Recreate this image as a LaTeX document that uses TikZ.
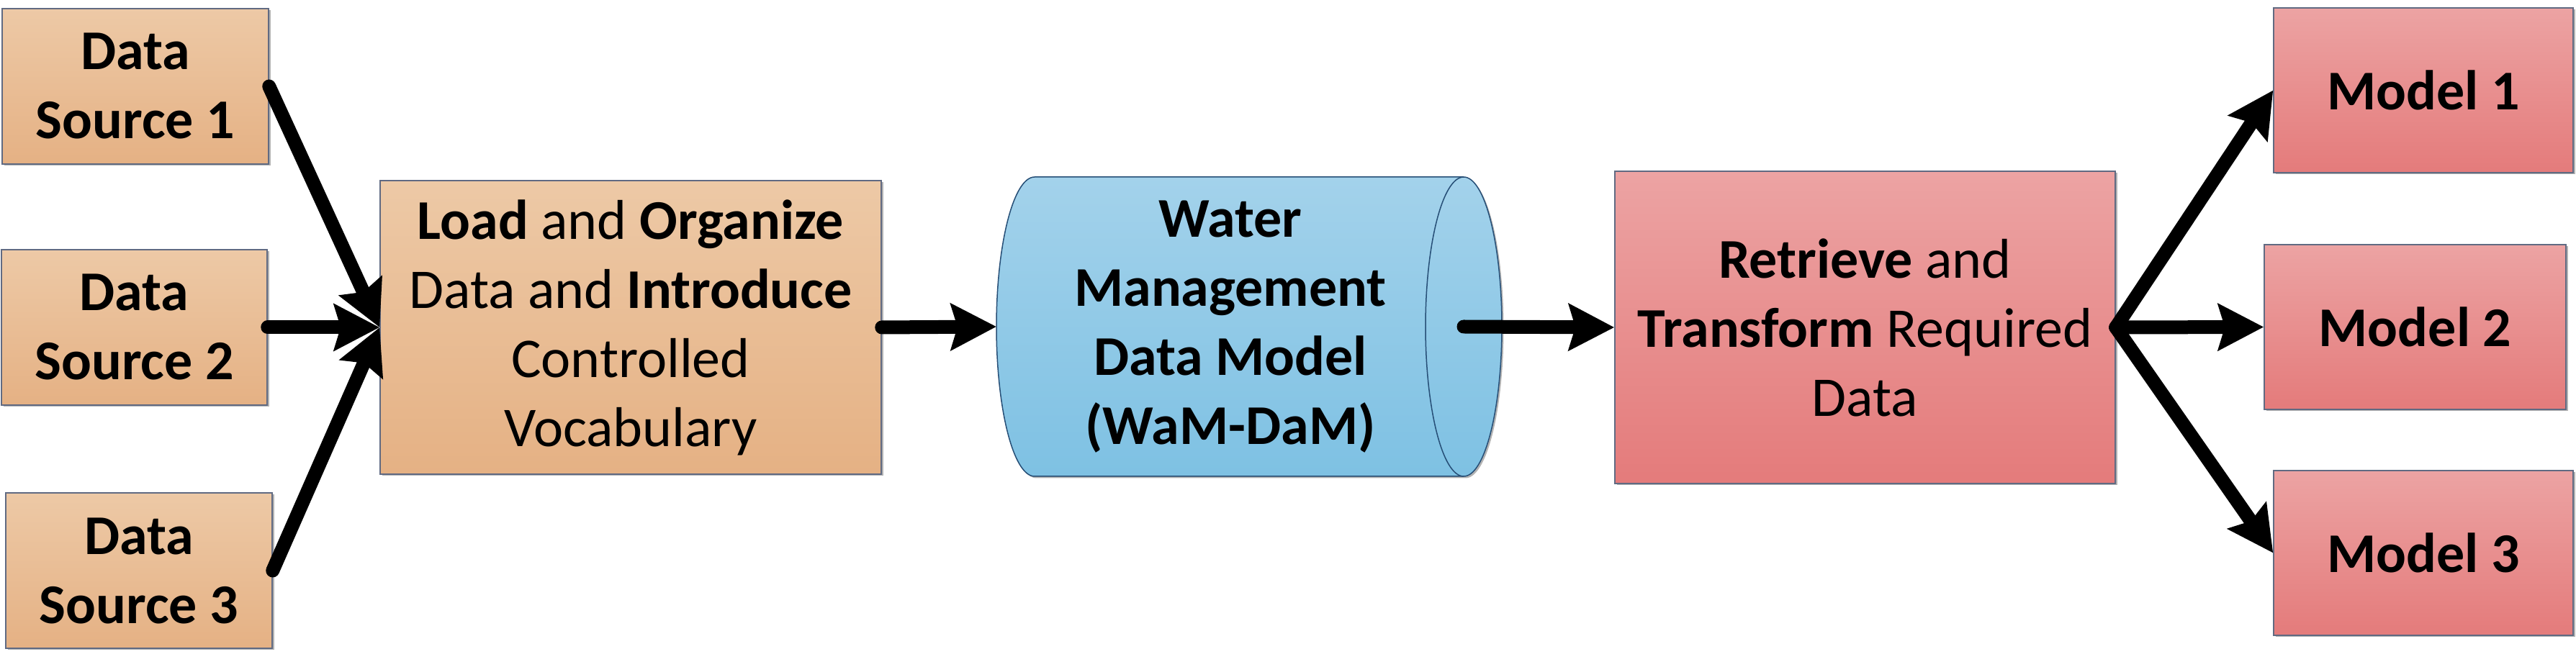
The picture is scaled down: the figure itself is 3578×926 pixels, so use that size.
\documentclass[tikz,border=0pt]{standalone}
\usepackage{fontspec}
\setmainfont{Carlito}
\usetikzlibrary{arrows.meta,shadows}
\definecolor{orT}{RGB}{237,201,166}
\definecolor{orB}{RGB}{229,177,132}
\definecolor{blT}{RGB}{163,210,235}
\definecolor{blB}{RGB}{126,193,227}
\definecolor{rdT}{RGB}{236,163,163}
\definecolor{rdB}{RGB}{228,123,123}
\definecolor{boxline}{RGB}{96,106,130}
\definecolor{cylline}{RGB}{38,78,118}
\begin{document}
\begin{tikzpicture}[x=1pt,y=1pt,
  txt/.style={font=\fontsize{78pt}{96pt}\selectfont, align=center, inner sep=0pt},
  boxbase/.style={txt, draw=boxline, line width=1.5pt, rectangle,
    drop shadow={shadow xshift=2.5pt, shadow yshift=-2.5pt, opacity=0.3, fill=black}},
  orbox/.style={boxbase, top color=orT, bottom color=orB},
  redbox/.style={boxbase, top color=rdT, bottom color=rdB},
  flow/.style={line width=19pt, line cap=round, line join=round,
    -{Stealth[length=63pt, width=64pt, inset=9pt]}}
]
\useasboundingbox (0,0) rectangle (3578,926);

% data sources
\node[orbox, minimum width=370pt, minimum height=216pt] (ds1) at (188,806) {\textbf{Data}\\\textbf{Source 1}};
\node[orbox, minimum width=369pt, minimum height=216pt] (ds2) at (186.5,471) {\textbf{Data}\\\textbf{Source 2}};
\node[orbox, minimum width=370pt, minimum height=216pt] (ds3) at (193,133) {\textbf{Data}\\\textbf{Source 3}};

% load box
\node[orbox, minimum width=696pt, minimum height=408pt] (load) at (876,471)
  {\textbf{Load} and \textbf{Organize}\\Data and \textbf{Introduce}\\Controlled\\Vocabulary};

% cylinder (WaM-DaM)
\path[draw=cylline, line width=1.5pt, top color=blT, bottom color=blB,
      drop shadow={shadow xshift=2.5pt, shadow yshift=-2.5pt, opacity=0.3, fill=black}]
  (1437,680) -- (2033,680) arc[start angle=90, end angle=-90, x radius=53, y radius=208]
  -- (1437,264) arc[start angle=270, end angle=90, x radius=53, y radius=208] -- cycle;
\draw[cylline, line width=1.5pt] (2033,680) arc[start angle=90, end angle=270, x radius=53, y radius=208];
\coordinate (wamin) at (1384,472);
\coordinate (wamout) at (2033,472);
\node[txt] (wam) at (1709,472) {\textbf{Water}\\\textbf{Management}\\\textbf{Data Model}\\\textbf{(WaM-DaM)}};

% retrieve box
\node[redbox, minimum width=695pt, minimum height=434pt] (ret) at (2590.5,471)
  {\textbf{Retrieve} and\\\textbf{Transform} Required\\Data};

% models
\node[redbox, minimum width=416pt, minimum height=229pt] (m1) at (3366,800.5) {\textbf{Model 1}};
\node[redbox, minimum width=419pt, minimum height=229pt] (m2) at (3354.5,471.5) {\textbf{Model 2}};
\node[redbox, minimum width=416pt, minimum height=229pt] (m3) at (3366,157.5) {\textbf{Model 3}};

% connectors
\draw[flow] (ds1.east) -- (load.west);
\draw[flow] (ds2.east) -- (load.west);
\draw[flow] (ds3.east) -- (load.west);
\draw[flow] (load.east) -- (wamin);
\draw[flow] (wamout) -- (ret.west);
\draw[flow] (ret.east) -- (m1.west);
\draw[flow] (ret.east) -- (m2.west);
\draw[flow] (ret.east) -- (m3.west);
\end{tikzpicture}
\end{document}
